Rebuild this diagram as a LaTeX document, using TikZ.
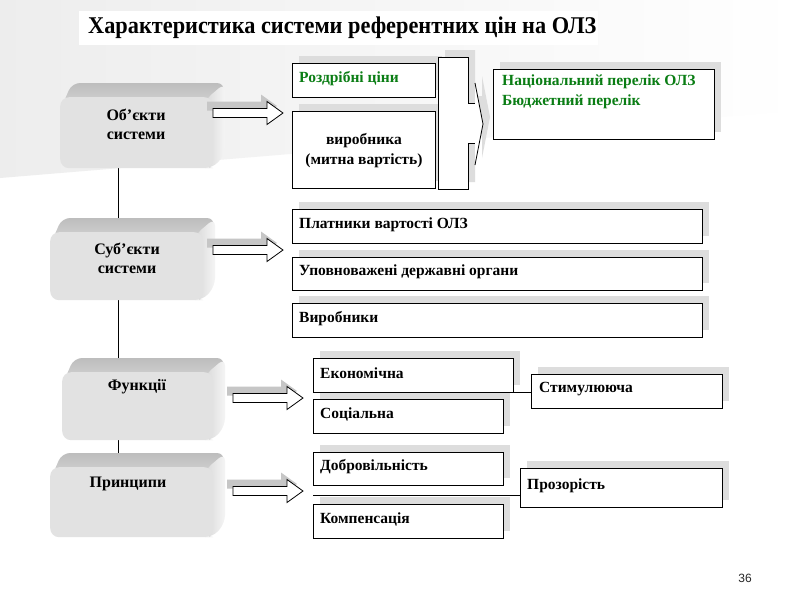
\documentclass[tikz,border=0pt]{standalone}
\usepackage{graphicx}
\usepackage{fontspec}
\setmainfont{Liberation Serif}[BoldFont={Liberation Serif Bold}]
\newfontfamily\pgnumfont{Liberation Sans}
\usetikzlibrary{calc,shadows}
\definecolor{olzgreen}{RGB}{10,125,20}
\tikzset{
  rbox/.style={draw=black, fill=white, line width=0.8pt, anchor=north west, inner sep=0pt,
    general shadow={fill=gray!27, shadow xshift=7pt, shadow yshift=7pt}},
  btext/.style={font=\fontsize{15.5}{20}\selectfont\bfseries, anchor=west, inner sep=0pt},
  ctext/.style={font=\fontsize{15.5}{20}\selectfont\bfseries, align=center, inner sep=0pt},
  face/.style={fill=gray!23, draw=none, rounded corners=9pt, inner sep=0pt, anchor=north west},
  facetext/.style={font=\fontsize{16}{19}\selectfont\bfseries, align=center, inner sep=0pt},
  conn/.style={draw=black, line width=0.7pt},
  arrowshadow/.style={fill=gray!45, draw=none},
  arrowbody/.style={fill=white, draw=black, line width=0.8pt},
}
% 3D box: name, x1, y1, width, height
\newcommand\tdbox[5]{%
  \shade[top color=gray!52, bottom color=gray!34, rounded corners=8pt]
    (#2+2,#3+9) -- (#2+12,#3-14) -- (#2+#4+12,#3-14) -- (#2+#4+8,#3+4) -- (#2+#4-4,#3+9) -- cycle;
  \shade[left color=gray!30, right color=gray!8, rounded corners=8pt]
    (#2+#4-8,#3+3) -- (#2+#4+12,#3-14) -- (#2+#4+12,#3+#5-14) -- (#2+#4,#3+#5) -- (#2+#4-8,#3+#5) -- cycle;
  \node[face, minimum width=#4pt, minimum height=#5pt] (#1) at (#2,#3) {};
}
% block arrow: x, y (start, centre line), length
\newcommand\blockarr[3]{%
  \fill[arrowshadow] (#1-6,#2-7-4.5) -- (#1+#3-22,#2-7-4.5) -- (#1+#3-22,#2-7-11.5) -- (#1+#3-6,#2-7)
     -- (#1+#3-22,#2-7+11.5) -- (#1+#3-22,#2-7+4.5) -- (#1-6,#2-7+4.5) -- cycle;
  \draw[arrowbody] (#1,#2-4.5) -- (#1+#3-16,#2-4.5) -- (#1+#3-16,#2-11.5) -- (#1+#3,#2)
     -- (#1+#3-16,#2+11.5) -- (#1+#3-16,#2+4.5) -- (#1,#2+4.5) -- cycle;
}
\newcommand\rboxat[5]{\node[rbox, minimum width=#4pt, minimum height=#5pt] (#1) at (#2,#3) {};}
\begin{document}
\begin{tikzpicture}[x=1pt,y=-1pt]
\useasboundingbox (0,0) rectangle (800,600);
\fill[white] (0,0) rectangle (800,600);
% background swoosh
\shade[left color=gray!14, right color=white] (0,0) -- (800,0) -- (800,110) -- (520,135) -- (0,178) -- cycle;
% title
\fill[white] (79,11) rectangle (598,45);
\node[anchor=west, inner sep=0pt, font=\fontsize{24}{27}\selectfont\bfseries] (title) at (88,28)
  {\scalebox{0.93}[1]{Характеристика системи референтних цін на ОЛЗ}};

% vertical connectors (drawn first, covered by the boxes)
\coordinate (o-bot) at (118,168);
\coordinate (s-top) at (118,218);
\coordinate (s-bot) at (118,300);
\coordinate (f-top) at (118,358);
\coordinate (f-bot) at (118,440);
\coordinate (p-top) at (118,453);
\draw[conn] (o-bot) -- (s-top);
\draw[conn] (s-bot) -- (f-top);
\draw[conn] (f-bot) -- (p-top);

% 3D boxes
\tdbox{obj}{60}{97}{153}{71}
\tdbox{subj}{50}{232}{153}{68}
\tdbox{func}{62}{372}{151}{68}
\tdbox{princ}{50}{467}{163}{70}
\node[facetext] (obj-t) at (136,124) {Об’єкти\\системи};
\node[facetext] (subj-t) at (127,258) {Суб’єкти\\системи};
\node[facetext] (func-t) at (137,387) {Функції};
\node[facetext] (princ-t) at (128,484) {Принципи};

% block arrows
\blockarr{213}{113}{70}
\blockarr{213}{250}{70}
\blockarr{233}{398}{70}
\blockarr{233}{491}{70}

% top group
\rboxat{retail}{292}{63}{143}{34}
\node[btext, text=olzgreen] (retail-t) at ($(retail.west)+(7,-2)$) {Роздрібні ціни};
\rboxat{prod}{292}{111}{143}{77}
\node[ctext] (prod-t) at ($(prod.center)+(0,1)$) {виробника\\(митна вартість)};

% tall box with chevron
\fill[gray!27] (445,50) -- (475,50) -- (475,96) -- (482,96) -- (482,76) -- (490,117) -- (482,158)
   -- (482,136) -- (475,136) -- (475,182) -- (445,182) -- cycle;
\fill[white] (438,57) -- (468,57) -- (468,103) -- (475,103) -- (475,83) -- (483,124) -- (475,165)
   -- (475,143) -- (468,143) -- (468,189) -- (438,189) -- cycle;
\draw[black, line width=0.8pt] (475,103) -- (468,103) -- (468,57) -- (438,57) -- (438,189)
   -- (468,189) -- (468,143) -- (475,143);
\draw[black, line width=0.8pt] (475,83) -- (483,124) -- (475,165);

\rboxat{nat}{493}{69}{221}{70}
\node[anchor=north west, align=left, inner sep=0pt, text=olzgreen,
  font=\fontsize{15.5}{20}\selectfont\bfseries] (nat-t) at ($(nat.north west)+(9,6)$)
  {Національний перелік ОЛЗ\\Бюджетний перелік};

% subjects group
\rboxat{pay}{292}{209}{410}{34}
\node[btext] (pay-t) at ($(pay.west)+(7,-2)$) {Платники вартості ОЛЗ};
\rboxat{auth}{292}{257}{410}{33}
\node[btext] (auth-t) at ($(auth.west)+(7,-2)$) {Уповноважені державні органи};
\rboxat{mfr}{292}{303}{410}{34}
\node[btext] (mfr-t) at ($(mfr.west)+(7,-2)$) {Виробники};

% functions group
\rboxat{eco}{313}{358}{200}{34}
\node[btext] (eco-t) at ($(eco.west)+(7,-2)$) {Економічна};
\rboxat{soc}{313}{399}{190}{34}
\node[btext] (soc-t) at ($(soc.west)+(7,-2)$) {Соціальна};
\rboxat{stim}{531}{374}{191}{34}
\node[btext] (stim-t) at ($(stim.west)+(8,-2)$) {Стимулююча};
\draw[conn] (eco.south west) -- (eco.south west -| stim.west);

% principles group
\rboxat{vol}{313}{452}{190}{33}
\node[btext] (vol-t) at ($(vol.west)+(7,-2)$) {Добровільність};
\rboxat{comp}{313}{504}{190}{34}
\node[btext] (comp-t) at ($(comp.west)+(7,-2)$) {Компенсація};
\rboxat{transp}{520}{468}{202}{39}
\node[btext] (transp-t) at ($(transp.west)+(7,-2)$) {Прозорість};
\coordinate (pline) at ($(vol.south west)+(0,10)$);
\draw[conn] (pline) -- (pline -| transp.west);

% page number
\node[font=\pgnumfont\fontsize{12}{14}\selectfont, text=black!85] (pgnum) at (745,578) {36};
\end{tikzpicture}
\end{document}
